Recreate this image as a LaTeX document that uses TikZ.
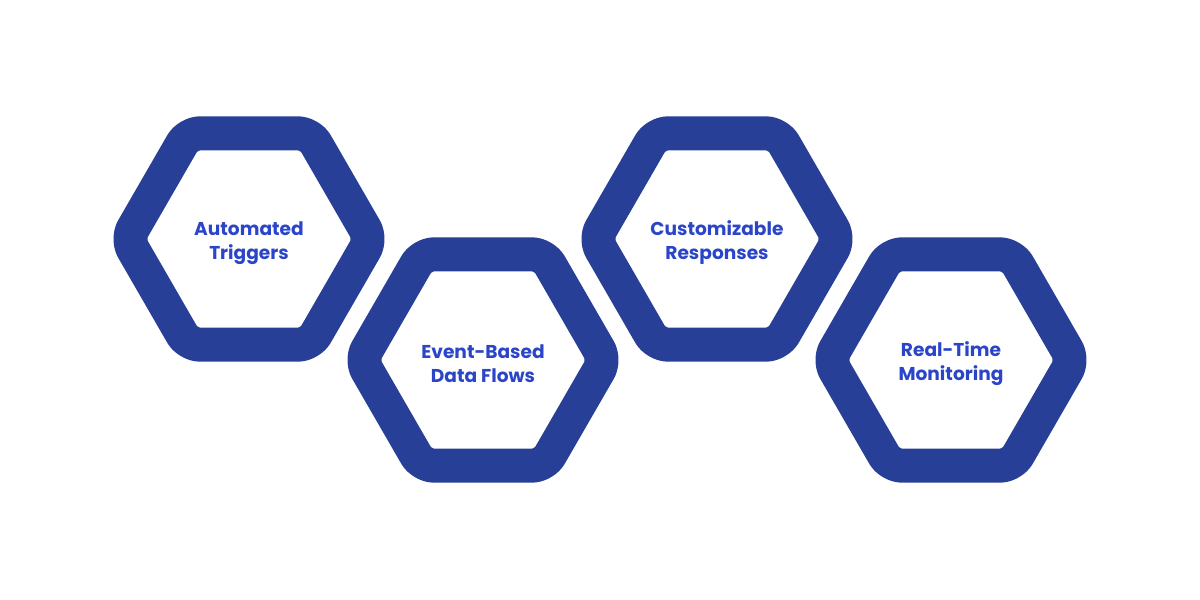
\documentclass[tikz,border=0pt]{standalone}
\usepackage{fontspec}
\setmainfont{Poppins}
\usetikzlibrary{shapes.geometric}
\definecolor{hexblue}{HTML}{273F96}
\definecolor{txtblue}{HTML}{2B45C9}
\begin{document}
\begin{tikzpicture}[x=1pt,y=-1pt,
  hex/.style={regular polygon,regular polygon sides=6,minimum size=244pt,inner sep=0pt,
    draw=hexblue,line width=34pt,rounded corners=12pt,line join=round,fill=white},
  lbl/.style={font=\fontsize{18.6}{24}\selectfont\bfseries,text=txtblue,align=center}]
\useasboundingbox (0,0) rectangle (1200,600);
\fill[white] (0,0) rectangle (1200,600);
\node[hex] (h1) at (249,239) {};
\node[hex] (h2) at (483,360) {};
\node[hex] (h3) at (717,239) {};
\node[hex] (h4) at (951,360) {};
\node[lbl,yshift=-4pt] (t1) at (h1) {Automated\\Triggers};
\node[lbl,yshift=-4pt] (t2) at (h2) {Event-Based\\Data Flows};
\node[lbl,yshift=-4pt] (t3) at (h3) {Customizable\\Responses};
\node[lbl,yshift=-4pt] (t4) at (h4) {Real-Time\\Monitoring};
\end{tikzpicture}
\end{document}
